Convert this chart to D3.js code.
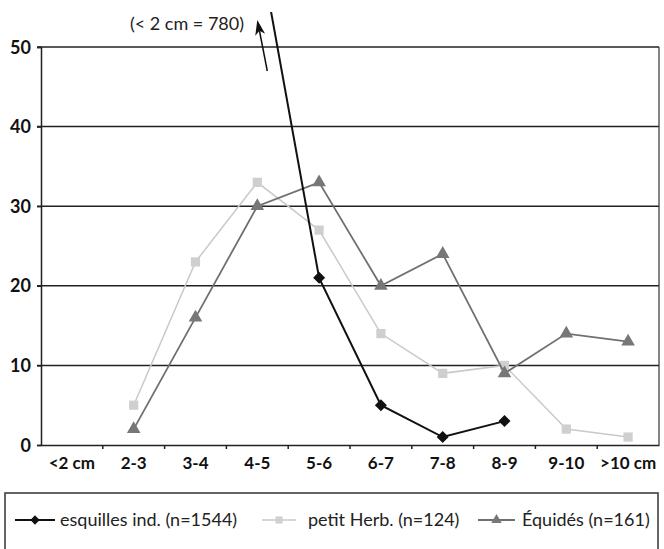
<!DOCTYPE html>
<html>
<head>
<meta charset="utf-8">
<script src="https://cdn.jsdelivr.net/npm/d3@7"></script>
<style>
	body { margin: 0; background: white; }
	.ticklab { font-family: Lato, "Open Sans", sans-serif; font-weight: bold; font-size: 17px; fill: #111; }
	.ylab { font-size: 18px; }
	.legtxt { font-family: Lato, "Open Sans", sans-serif; font-size: 18px; fill: #222; }
</style>
</head>
<body>
<div id="vis"></div>
<script>
var w = 664;
var h = 549;

// categories (taille des fragments)
var cats = ["<2 cm", "2-3", "3-4", "4-5", "5-6", "6-7", "7-8", "8-9", "9-10", ">10 cm"];
var yticks = [0, 10, 20, 30, 40, 50];

// series (nombre de restes), null = pas de valeur
var esquilles = [780, null, null, 64, 21, 5, 1, 3, null, null];
var petitHerb = [null, 5, 23, 33, 27, 14, 9, 10, 2, 1];
var equides = [null, 2, 16, 30, 33, 20, 24, 9, 14, 13];

var legNames = ["esquilles ind. (n=1544)", "petit Herb. (n=124)", "Équidés (n=161)"];
var note = "(< 2 cm = 780)";

// let op: "top" is al window.top
var pl = 41, pr = 659, pt = 47, pb = 445;

var svg = d3.select("#vis")
	.append("svg")
	.attr("width", w)
	.attr("height", h);

var x = d3.scaleBand()
	.domain(cats)
	.range([pl, pr])
	.padding(0);

var y = d3.scaleLinear()
	.domain([0, 50])
	.range([pb, pt]);

function cx(i) { return x(cats[i]) + x.bandwidth() / 2; }

//clip voor de lijn die boven de grafiek uitsteekt
svg.append("clipPath")
	.attr("id", "clip")
	.append("rect")
	.attr("x", pl)
	.attr("y", 12)
	.attr("width", pr - pl)
	.attr("height", pb - 12);

//hulplijnen
svg.selectAll(".grid")
	.data(yticks.slice(1))
	.enter()
	.append("line")
	.attr("class", "grid")
	.attr("x1", pl - 4)
	.attr("x2", pr)
	.attr("y1", function(d) { return y(d); })
	.attr("y2", function(d) { return y(d); })
	.attr("stroke", "#222")
	.attr("stroke-width", 1.5);

//rechterrand
svg.append("line")
	.attr("x1", pr)
	.attr("x2", pr)
	.attr("y1", y(50))
	.attr("y2", y(0))
	.attr("stroke", "#333")
	.attr("stroke-width", 1.2);

//y-as
var yAxis = svg.append("g")
	.attr("transform", "translate(" + pl + ",0)")
	.call(d3.axisLeft(y).tickValues(yticks).tickSize(4).tickPadding(6));
yAxis.select(".domain").attr("stroke", "#222").attr("stroke-width", 1.5);
yAxis.selectAll("line").attr("stroke", "#222").attr("stroke-width", 1.5);
yAxis.selectAll("text").attr("class", "ticklab ylab").attr("dy", "0.34em");

//x-as met streepjes tussen de klassen
var xAxis = svg.append("g")
	.attr("transform", "translate(0," + pb + ")")
	.call(d3.axisBottom(x).tickSize(0).tickPadding(12));
xAxis.select(".domain").attr("stroke", "#222").attr("stroke-width", 1.5);
xAxis.selectAll("text").attr("class", "ticklab").attr("dy", "0.72em");

svg.selectAll(".xtick")
	.data(cats.slice(1))
	.enter()
	.append("line")
	.attr("class", "xtick")
	.attr("x1", function(d) { return x(d); })
	.attr("x2", function(d) { return x(d); })
	.attr("y1", pb)
	.attr("y2", pb + 4)
	.attr("stroke", "#222")
	.attr("stroke-width", 1.5);

var line = d3.line()
	.defined(function(d) { return d != null; })
	.x(function(d, i) { return cx(i); })
	.y(function(d) { return y(d); });

// ruit = vierkant 45 graden gedraaid
var series = [
	{ vals: petitHerb, color: "#c9c9c9", fill: "#cfcfcf", sym: d3.symbolSquare, size: 85, width: 1.5, rot: 0 },
	{ vals: equides, color: "#707070", fill: "#777777", sym: d3.symbolTriangle, size: 80, width: 1.8, rot: 0 },
	{ vals: esquilles, color: "#111111", fill: "#111111", sym: d3.symbolSquare, size: 72, width: 2, rot: 45 }
];

series.forEach(function(s) {
	svg.append("path")
		.datum(s.vals)
		.attr("d", line)
		.attr("fill", "none")
		.attr("stroke", s.color)
		.attr("stroke-width", s.width)
		.attr("clip-path", "url(#clip)");

	svg.selectAll(null)
		.data(s.vals.map(function(v, i) { return { v: v, i: i }; }).filter(function(d) { return d.v != null && d.v <= 50; }))
		.enter()
		.append("path")
		.attr("d", d3.symbol().type(s.sym).size(s.size))
		.attr("transform", function(d) {
			return "translate(" + cx(d.i) + "," + y(d.v) + ") rotate(" + s.rot + ")";
		})
		.attr("fill", s.fill);
});

//pijl + notitie
var ax = cx(3) + 10;
var ay1 = 71, ay2 = 20;
var ang = Math.atan2(ay2 - ay1, -10) * 180 / Math.PI;
svg.append("line")
	.attr("x1", ax)
	.attr("y1", ay1)
	.attr("x2", ax - 8)
	.attr("y2", ay2 + 10)
	.attr("stroke", "#111")
	.attr("stroke-width", 1.5);
svg.append("path")
	.attr("d", "M0,0 L-15,-5 L-11,0 L-15,5 Z")
	.attr("transform", "translate(" + (ax - 10) + "," + ay2 + ") rotate(" + ang + ")")
	.attr("fill", "#111");

svg.append("text")
	.attr("class", "legtxt")
	.attr("x", 187)
	.attr("y", 30)
	.attr("text-anchor", "middle")
	.text(note);

//legenda
svg.append("rect")
	.attr("x", 5)
	.attr("y", 493)
	.attr("width", 653)
	.attr("height", 70)
	.attr("fill", "none")
	.attr("stroke", "#333")
	.attr("stroke-width", 1.5);

var legItems = [
	{ s: series[2], x1: 15, x2: 55, tx: 60 },
	{ s: series[0], x1: 262, x2: 296, tx: 308 },
	{ s: series[1], x1: 478, x2: 515, tx: 522 }
];
var ly = 520;

legItems.forEach(function(d, k) {
	svg.append("line")
		.attr("x1", d.x1)
		.attr("x2", d.x2)
		.attr("y1", ly)
		.attr("y2", ly)
		.attr("stroke", d.s.color)
		.attr("stroke-width", d.s.width);
	svg.append("path")
		.attr("d", d3.symbol().type(d.s.sym).size(d.s.size * 0.6))
		.attr("transform", "translate(" + ((d.x1 + d.x2) / 2) + "," + ly + ") rotate(" + d.s.rot + ")")
		.attr("fill", d.s.fill);
	svg.append("text")
		.attr("class", "legtxt")
		.attr("x", d.tx)
		.attr("y", ly + 6)
		.text(legNames[k]);
});
</script>
</body>
</html>
